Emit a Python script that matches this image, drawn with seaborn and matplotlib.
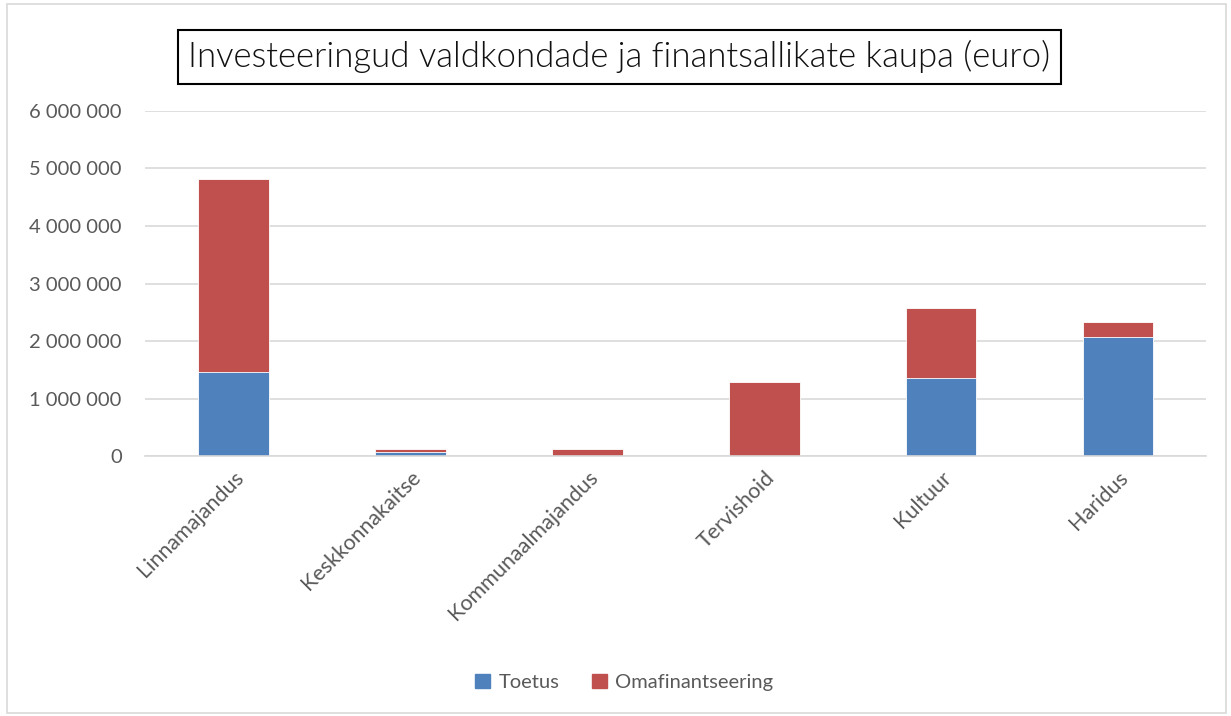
import matplotlib.pyplot as plt
import matplotlib.patches as mpatches
from matplotlib.ticker import FuncFormatter
import numpy as np
import pandas as pd
import seaborn as sns

categories = ["Linnamajandus", "Keskkonnakaitse", "Kommunaalmajandus", "Tervishoid", "Kultuur", "Haridus"]
toetus = [1460000, 75000, 0, 0, 1360000, 2075000]
omafinantseering = [3360000, 47000, 120000, 1290000, 1210000, 250000]

blue = "#4F81BD"
red = "#C0504D"
grey = "#595959"

df = pd.DataFrame({"valdkond": categories, "Toetus": toetus, "Omafinantseering": omafinantseering})
df["kokku"] = df["Toetus"] + df["Omafinantseering"]

sns.set_style("white")
plt.rcParams['font.family'] = ['Lato', 'DejaVu Sans']

fig = plt.figure(figsize=(12.31, 7.16), dpi=100)
ax = fig.add_axes([0.118, 0.363, 0.862, 0.482])

sns.barplot(data=df, x="valdkond", y="kokku", color=red, width=0.4, saturation=1,
            edgecolor="white", linewidth=0.6, ax=ax)
sns.barplot(data=df, x="valdkond", y="Toetus", color=blue, width=0.4, saturation=1,
            edgecolor="white", linewidth=0.6, ax=ax)

ax.set_ylim(0, 6000000)
ax.set_yticks(np.arange(0, 6000001, 1000000))
ax.yaxis.set_major_formatter(FuncFormatter(lambda v, p: f"{int(v):,}".replace(",", " ")))
ax.grid(axis="y", color="#D9D9D9", linewidth=1.2)
ax.set_axisbelow(True)
for s in ["top", "right", "left"]:
    ax.spines[s].set_visible(False)
ax.spines["bottom"].set_color("#D9D9D9")
ax.spines["bottom"].set_linewidth(1.2)
ax.set_xlabel("")
ax.set_ylabel("")
ax.tick_params(axis="both", length=0, colors=grey, labelsize=14.5)
ax.tick_params(axis="x", labelsize=15.5, pad=8)
ax.tick_params(axis="y", pad=17)
plt.setp(ax.get_xticklabels(), rotation=45, ha="right", rotation_mode="anchor")

fig.text(0.503, 0.921, "Investeeringud valdkondade ja finantsallikate kaupa (euro)",
         ha="center", va="center", fontsize=25, color="#111111", fontweight=300,
         bbox=dict(boxstyle="square,pad=0.3", facecolor="white", edgecolor="black", linewidth=1.5))

handles = [mpatches.Patch(color=blue, label="Toetus"),
           mpatches.Patch(color=red, label="Omafinantseering")]
leg = fig.legend(handles=handles, loc="center", bbox_to_anchor=(0.507, 0.047), ncol=2,
                 frameon=False, fontsize=14.5, handlelength=0.75, handleheight=0.75,
                 columnspacing=1.6, handletextpad=0.4)
for t in leg.get_texts():
    t.set_color(grey)

fig.patches.append(mpatches.Rectangle((0.006, 0.004), 0.99, 0.99, transform=fig.transFigure,
                                      fill=False, edgecolor="#D9D9D9", linewidth=1.2))

fig.savefig("out.png", dpi=100)
